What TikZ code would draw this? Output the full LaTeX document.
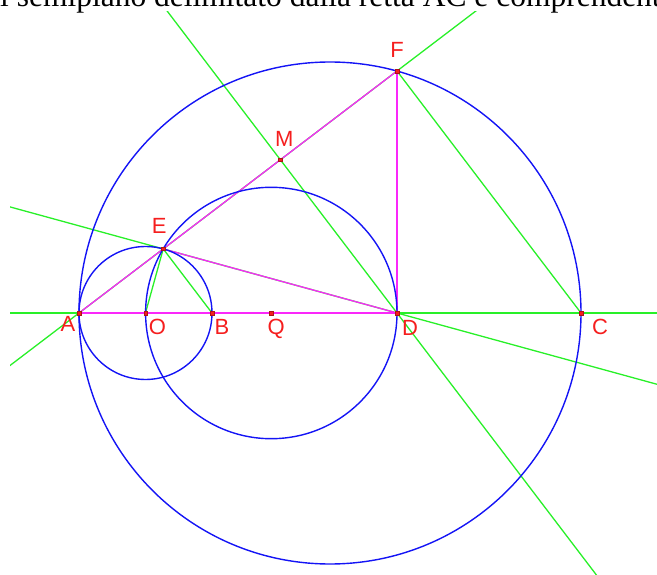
\documentclass[tikz,border=0pt]{standalone}
\usepackage{fontspec}
\setmainfont{Liberation Serif}
\newfontfamily\labelfont{Liberation Sans}
\usepackage{xcolor}
\usepackage{tikz}
\usetikzlibrary{positioning, calc}
\definecolor{cblue}{RGB}{20,20,245}
\definecolor{cgreen}{RGB}{40,240,40}
\definecolor{cmag}{RGB}{250,40,250}
\definecolor{cred}{RGB}{245,30,30}
\tikzstyle{pt} = [rectangle, fill=cred, draw=cred!70!black, line width=0.4pt, inner sep=0pt, minimum size=3.5pt]
\tikzstyle{lbl} = [inner sep=0pt, text=cred, font=\labelfont\fontsize{22}{22}\selectfont, text height=15.8pt, text depth=0pt]
\tikzstyle{gline} = [cgreen, line width=1.3pt]
\tikzstyle{mline} = [cmag, line width=1.3pt]
\tikzstyle{circ} = [cblue, line width=1.4pt]

\begin{document}
\begin{tikzpicture}[x=1pt, y=-1pt]
    \useasboundingbox (0,0) rectangle (657,575);
    % Points
    \coordinate (A) at (79,313);
    \coordinate (B) at (212,313);
    \coordinate (O) at ($(A)!0.5!(B)$);
    \coordinate (Q) at (271.3,313);
    \coordinate (D) at (397,313);
    \coordinate (C) at (581,313);
    \coordinate (K) at ($(A)!0.5!(C)$);
    \coordinate (F) at (397,71);
    \coordinate (E) at ($(A)!(B)!(F)$);
    \coordinate (M) at ($(A)!(D)!(F)$);

    % Top text
    \node (title) [anchor=base west, inner sep=0pt, font=\fontsize{31.5}{31.5}\selectfont] at (0,6.5) {l semipiano delimitato dalla retta AC e comprendente};

    % Green lines
    \begin{scope}
        \clip (10,12) rectangle (657,575);
        \draw [gline] ($(A)!-1!(C)$) -- ($(A)!2!(C)$);
        \draw [gline] ($(A)!-1!(F)$) -- ($(A)!2!(F)$);
        \draw [gline] ($(E)!-1!(D)$) -- ($(E)!3!(D)$);
        \draw [gline] ($(D)!-2!(M)$) -- ($(D)!3!(M)$);
    \end{scope}
    \draw [gline] (E) -- (O);
    \draw [gline] (E) -- (B);
    \draw [gline] (F) -- (C);

    % Magenta segments
    \draw [mline] (A) -- (D);
    \draw [mline] (A) -- (F);
    \draw [mline] (F) -- (D);
    \draw [mline] (E) -- (D);

    % Circles
    \draw [circ] (O) circle [radius=66.5pt];
    \draw [circ] (Q) circle [radius=125.7pt];
    \draw [circ] (K) circle [radius=251pt];

    % Markers
    \foreach \p in {A,O,B,Q,D,C,E,F,M}
        \node (pt\p) [pt] at (\p) {};

    % Labels
    \node (labA) [lbl] at ($(A)+(-11,11)$) {A};
    \node (labO) [lbl] at ($(O)+(12,14)$) {O};
    \node (labB) [lbl] at ($(B)+(10,14)$) {B};
    \node (labQ) [lbl] at ($(Q)+(5,14)$) {Q};
    \node (labD) [lbl] at ($(D)+(13,15)$) {D};
    \node (labC) [lbl] at ($(C)+(19,14)$) {C};
    \node (labE) [lbl] at ($(E)+(-4,-23)$) {E};
    \node (labF) [lbl] at ($(F)+(0,-21)$) {F};
    \node (labM) [lbl] at ($(M)+(4,-21)$) {M};
\end{tikzpicture}
\end{document}
